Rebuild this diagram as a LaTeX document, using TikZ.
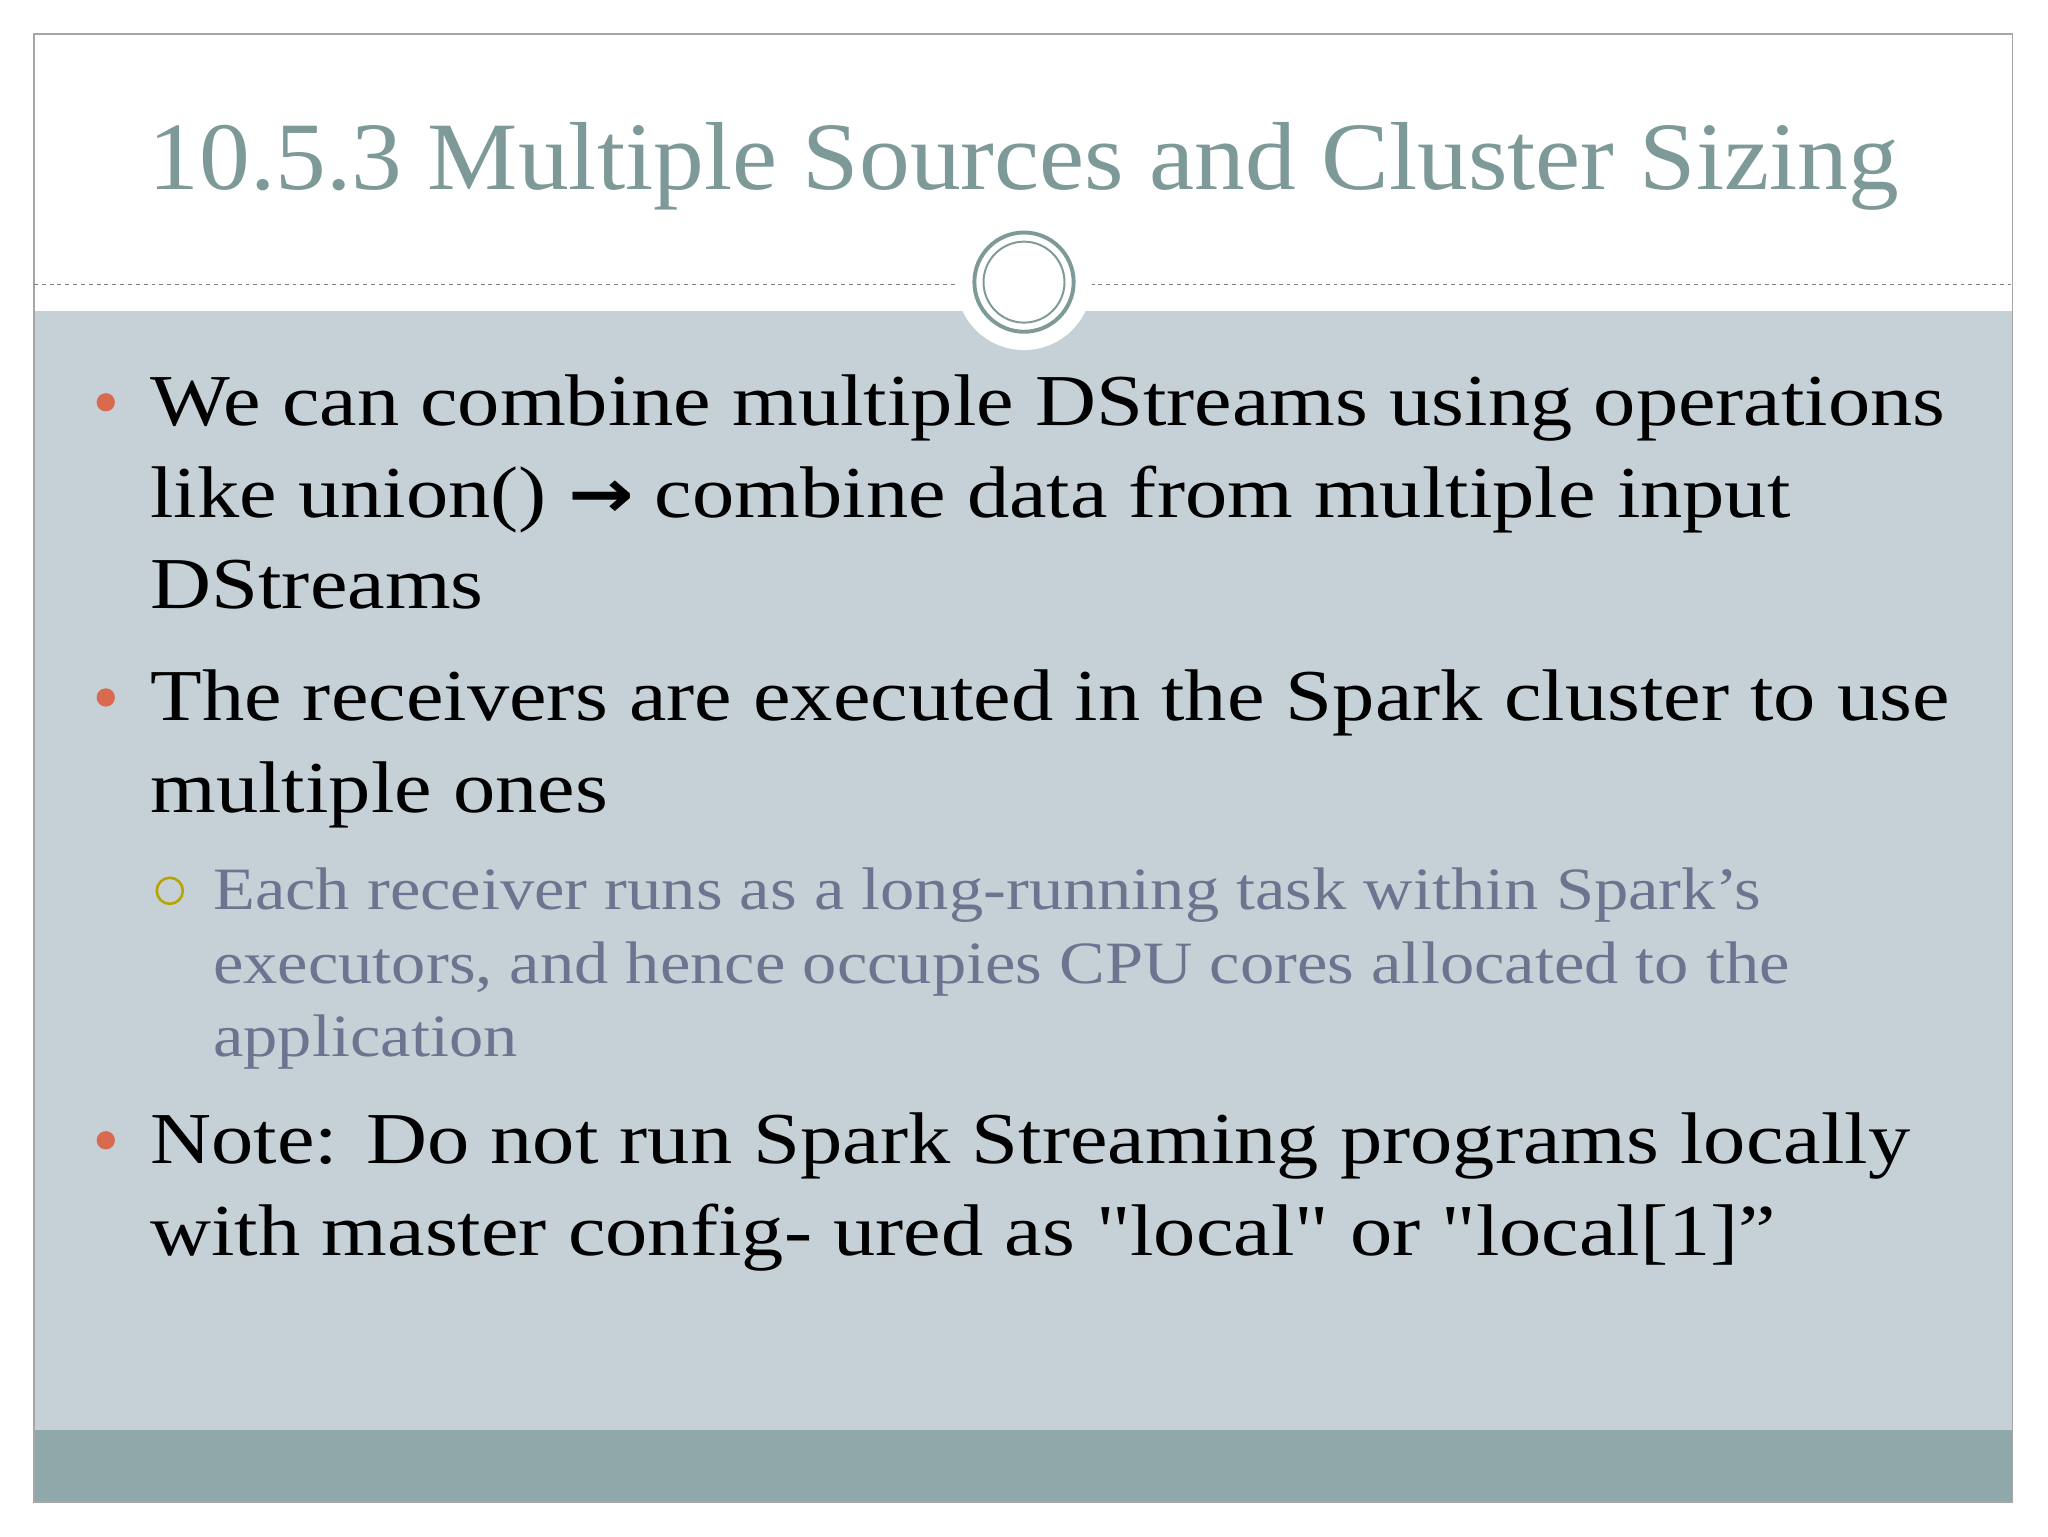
\documentclass[tikz,border=0pt]{standalone}
\usepackage{fontspec}
\setmainfont{Liberation Serif}
\newfontfamily\qf{Liberation Serif}[Ligatures=ResetAll]
\newfontfamily\symf{DejaVu Sans}
\definecolor{bodyc}{HTML}{C5D1D6}
\definecolor{bandc}{HTML}{8FA9AB}
\definecolor{titc}{HTML}{7E9A98}
\definecolor{bulc}{HTML}{D9694F}
\definecolor{subc}{HTML}{6B7590}
\definecolor{ringc}{HTML}{B8A400}
\tikzset{
 main/.style={anchor=base west,inner sep=0,font=\fontsize{56}{70}\selectfont,xscale=1.155,transform shape},
 subt/.style={anchor=base west,inner sep=0,font=\fontsize{46}{57}\selectfont,text=subc,xscale=1.14,transform shape},
 bul/.style={circle,fill=bulc,inner sep=0,minimum size=14pt},
 sbul/.style={circle,draw=ringc,line width=2pt,inner sep=0,minimum size=20pt}
}
\begin{document}
\begin{tikzpicture}[x=1pt,y=-1pt]
\useasboundingbox (0,0) rectangle (1568,1176);
\fill[white] (0,0) rectangle (1568,1176);
\fill[bodyc] (26,238) rectangle (1541,1095);
\fill[bandc] (26,1095) rectangle (1541,1150);
\draw[gray!70,line width=1pt] (26,26) rectangle (1541,1150);
\draw[gray,dashed,line width=0.8pt] (26,218) -- (735,218);
\draw[gray,dashed,line width=0.8pt] (835,218) -- (1541,218);
\fill[white] (784,216) circle (52);
\draw[titc,line width=3pt] (784,216) circle (38);
\draw[titc,line width=1.5pt] (784,216) circle (31);
\node[anchor=base,inner sep=0,text=titc,font=\fontsize{74}{80}\selectfont,xscale=1.05,transform shape] (title) at (784,145) {10.5.3 Multiple Sources and Cluster Sizing};
\node[bul] (b1) at (81,308) {};
\node[main] (t1) at (115,326) {We can combine multiple DStreams using operations};
\node[main] (t1b) at (115,396) {like union() {\symf\bfseries\fontsize{52}{52}\selectfont →} combine data from multiple input};
\node[main] (t1c) at (115,466) {DStreams};
\node[bul] (b2) at (81,534) {};
\node[main] (t2) at (115,552) {The receivers are executed in the Spark cluster to use};
\node[main] (t2b) at (115,622) {multiple ones};
\node[sbul] (s1) at (130,682) {};
\node[subt] (u1) at (163,696) {Each receiver runs as a long-running task within Spark’s};
\node[subt] (u2) at (163,753) {executors, and hence occupies CPU cores allocated to the};
\node[subt] (u3) at (163,809) {application};
\node[bul] (b3) at (81,873) {};
\node[main] (t3) at (115,891) {Note: Do not run Spark Streaming programs locally};
\node[main] (t3b) at (115,961) {with master config- ured as {\qf"}local{\qf"} or {\qf"}local[1]”};
\end{tikzpicture}
\end{document}
